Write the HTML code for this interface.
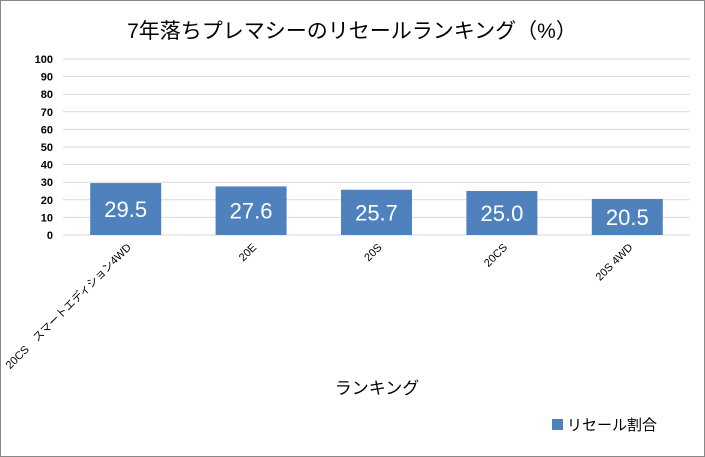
<!DOCTYPE html>
<html><head><meta charset="utf-8"><style>
body{margin:0;background:#fff}
svg{display:block;font-family:"Liberation Sans","Noto Sans CJK JP",sans-serif}
</style></head><body>
<svg width="705" height="457">
<rect x="0.5" y="0.5" width="704" height="456" fill="#fff" stroke="#888"/>
<text x="352" y="38" text-anchor="middle" font-size="21" fill="#000">7年落ちプレマシーのリセールランキング（%）</text>
<g id="grid"></g><g id="bars"></g><g id="xl"></g>
<text x="377" y="394" text-anchor="middle" font-size="17">ランキング</text>
<rect x="552" y="419" width="11" height="11" fill="#4f81bd"/>
<text x="567" y="430" font-size="15">リセール割合</text>
</svg>
<script>
const categories=["20CS　スマートエディション4WD","20E","20S","20CS","20S 4WD"];
const values=[29.5,27.6,25.7,25.0,20.5];
const ticks=[0,10,20,30,40,50,60,70,80,90,100];
const NS="http://www.w3.org/2000/svg";
const x0=63,x1=690,y0=235,y100=59;
const y=v=>y0-(v/100)*(y0-y100);
const bw=(x1-x0)/categories.length;
function mk(t,a,p,txt){const e=document.createElementNS(NS,t);for(const k in a)e.setAttribute(k,a[k]);if(txt!==undefined)e.textContent=txt;document.getElementById(p).appendChild(e);return e;}
ticks.forEach(t=>{
 const l=mk("line",{x1:x0,x2:x1,y1:y(t),y2:y(t),stroke:"#d9d9d9","stroke-width":1},"grid");
 
 
 const s=mk("text",{x:53,y:y(t)+4,"text-anchor":"end","font-size":11,"font-weight":"bold"},"grid",t);
 
 
});
categories.forEach((c,i)=>{
 const cx=x0+bw*(i+0.5),w=71;
 const r=mk("rect",{x:cx-w/2,y:y(values[i]),width:w,height:y0-y(values[i]),fill:"#4f81bd"},"bars");
 
 
 const v=mk("text",{x:cx,y:(y(values[i])+y0)/2+8,"text-anchor":"middle","font-size":22,fill:"#fff"},"bars",values[i].toFixed(1));
 
 
 const t=mk("text",{x:0,y:0,"text-anchor":"end","font-size":11,transform:`translate(${cx+6},${y0+13}) rotate(-45)`},"xl",c);
 
 
});
</script>
</body></html>
